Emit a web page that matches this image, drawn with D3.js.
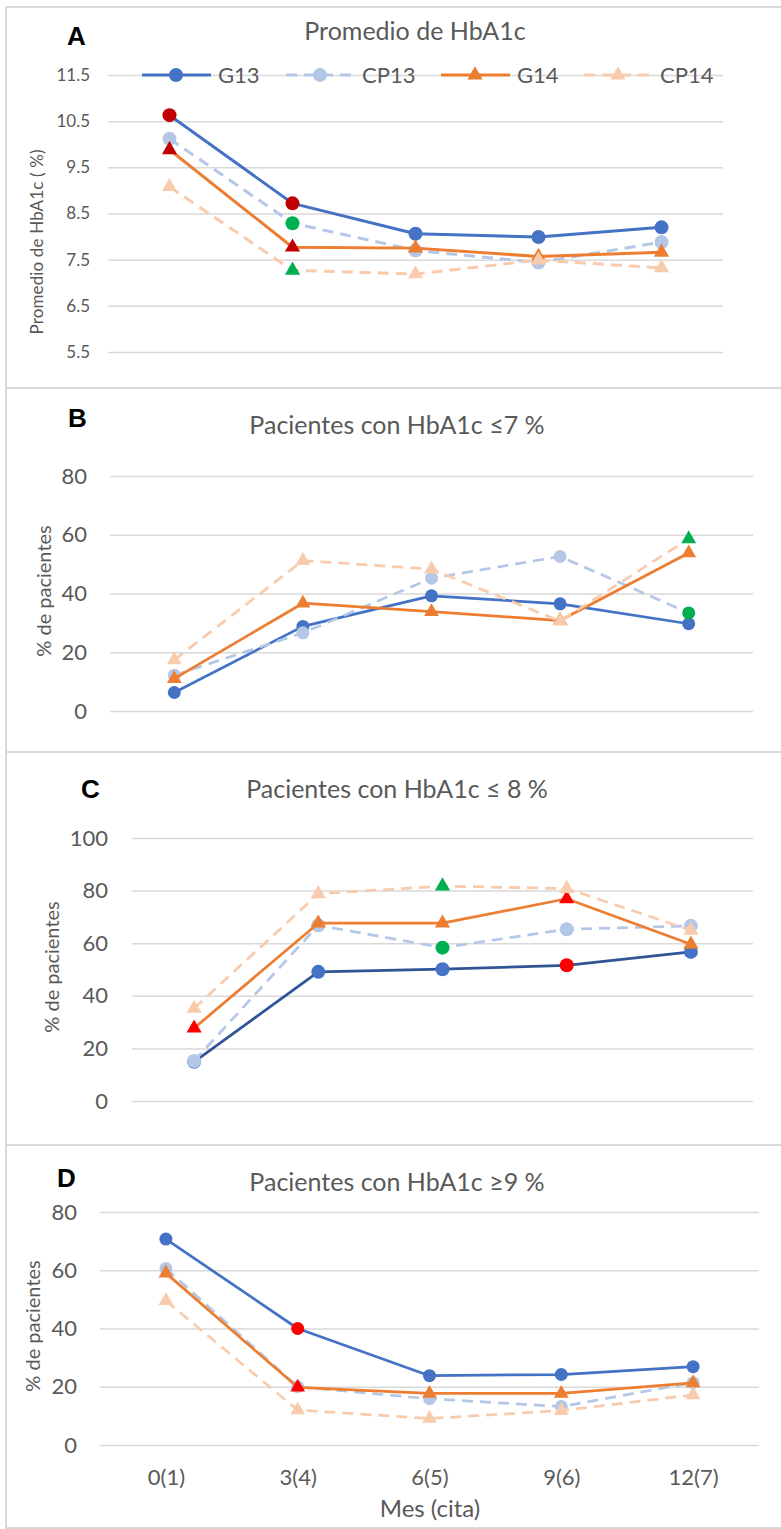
<!DOCTYPE html>
<html lang="es">
<head>
<meta charset="UTF-8">
<title>HbA1c por mes</title>
<script src="https://cdnjs.cloudflare.com/ajax/libs/d3/7.8.5/d3.min.js"></script>
<style>
  body { margin: 0; background: #fff; }
  text { font-family: Lato, "Open Sans", sans-serif; fill: #595959; }
  .letra { font-family: "Liberation Sans", Arial, sans-serif; font-weight: bold; fill: #000; }
</style>
</head>
<body>
<svg id="fig" width="781" height="1529"></svg>
<script>
// categorias y series
const meses = ["0(1)", "3(4)", "6(5)", "9(6)", "12(7)"];
const series = ["G13", "CP13", "G14", "CP14"];

// A: promedio de HbA1c (%)
const A_G13  = [10.63, 8.72, 8.06, 7.99, 8.20];
const A_CP13 = [10.12, 8.29, 7.70, 7.44, 7.88];
const A_G14  = [9.88, 7.77, 7.75, 7.57, 7.66];
const A_CP14 = [9.08, 7.27, 7.19, 7.49, 7.32];
const ticksA = [5.5, 6.5, 7.5, 8.5, 9.5, 10.5, 11.5];

// B: pacientes con HbA1c <=7 %
const B_G13  = [6.3, 28.8, 39.2, 36.5, 29.7];
const B_CP13 = [12.2, 26.6, 45.2, 52.6, 33.4];
const B_G14  = [11.0, 36.7, 33.8, 30.8, 53.8];
const B_CP14 = [17.4, 51.2, 48.3, 30.6, 58.6];
const ticksB = [0, 20, 40, 60, 80];

// C: pacientes con HbA1c <=8 %
const C_G13  = [14.9, 49.1, 50.1, 51.6, 56.7];
const C_CP13 = [15.2, 66.8, 58.3, 65.3, 66.6];
const C_G14  = [27.7, 67.6, 67.6, 76.9, 59.6];
const C_CP14 = [35.2, 78.8, 81.7, 80.8, 64.9];
const ticksC = [0, 20, 40, 60, 80, 100];

// D: pacientes con HbA1c >=9 %
const D_G13  = [70.7, 40.0, 23.8, 24.2, 26.9];
const D_CP13 = [60.6, 20.0, 15.9, 13.2, 21.4];
const D_G14  = [59.0, 19.8, 17.7, 17.7, 21.3];
const D_CP14 = [49.5, 12.0, 9.1, 11.8, 17.2];
const ticksD = [0, 20, 40, 60, 80];

// puntos resaltados (o = oscuro, r = rojo, v = verde)
const A_marcas = {G13: ["o","o","","",""], CP13: ["","v","","",""], G14: ["o","o","","",""], CP14: ["","v","","",""]};
const B_marcas = {G13: ["","","","",""], CP13: ["","","","","v"], G14: ["","","","",""], CP14: ["","","","","v"]};
const C_marcas = {G13: ["","","","r",""], CP13: ["","","v","",""], G14: ["r","","","r",""], CP14: ["","","v","",""]};
const D_marcas = {G13: ["","r","","",""], CP13: ["","","","",""], G14: ["","r","","",""], CP14: ["","","","",""]};

const colMarca = {o: "#C00000", r: "#FF0000", v: "#00B050"};
const estilo = {
  G13:  {color: "#4472C4", dash: null,   sym: "c"},
  CP13: {color: "#B4C7E7", dash: "11,7", sym: "c"},
  G14:  {color: "#ED7D31", dash: null,   sym: "t"},
  CP14: {color: "#F8CBAD", dash: "11,7", sym: "t"}
};

const paneles = [
  {letra: "A", lx: 67, ly: 45, titulo: "Promedio de HbA1c", tx: 415, ty: 40,
   yt: "Promedio de HbA1c ( %)", ytx: 37, yty: 242, ytLen: 185, ytSize: 17,
   datos: {G13: A_G13, CP13: A_CP13, G14: A_G14, CP14: A_CP14}, marcas: A_marcas,
   dom: [5.5, 11.5], ticks: ticksA, fmt: d3.format(".1f"), tickSize: 17, pad: 18,
   x0: 108, x1: 723, yTop: 75, yBot: 352, r: 7, tri: 100, lw: 3},
  {letra: "B", lx: 68, ly: 427, titulo: "Pacientes con HbA1c \u22647 %", tx: 397, ty: 434,
   yt: "% de pacientes", ytx: 44, yty: 591, ytSize: 20,
   datos: {G13: B_G13, CP13: B_CP13, G14: B_G14, CP14: B_CP14}, marcas: B_marcas,
   dom: [0, 80], ticks: ticksB, fmt: d3.format("d"), tickSize: 22, pad: 23,
   x0: 110, x1: 753, yTop: 476, yBot: 711, r: 6.5, tri: 95, lw: 2.75},
  {letra: "C", lx: 81, ly: 798, titulo: "Pacientes con HbA1c \u2264 8 %", tx: 397, ty: 798,
   yt: "% de pacientes", ytx: 52, yty: 967, ytSize: 20, g13col: "#2F5597",
   datos: {G13: C_G13, CP13: C_CP13, G14: C_G14, CP14: C_CP14}, marcas: C_marcas,
   dom: [0, 100], ticks: ticksC, fmt: d3.format("d"), tickSize: 22, pad: 24,
   x0: 132, x1: 753, yTop: 838, yBot: 1101, r: 7, tri: 100, lw: 2.75},
  {letra: "D", lx: 57, ly: 1187, titulo: "Pacientes con HbA1c \u22659 %", tx: 397, ty: 1191,
   yt: "% de pacientes", ytx: 33, yty: 1326, ytSize: 20,
   datos: {G13: D_G13, CP13: D_CP13, G14: D_G14, CP14: D_CP14}, marcas: D_marcas,
   dom: [0, 80], ticks: ticksD, fmt: d3.format("d"), tickSize: 22, pad: 23,
   x0: 100, x1: 759, yTop: 1212, yBot: 1445, r: 6.5, tri: 95, lw: 2.75, ejeX: true}
];

const svg = d3.select("#fig");

// marco
const gris = "#D9D9D9";
svg.append("line").attr("x1", 6).attr("x2", 781).attr("y1", 7).attr("y2", 7).attr("stroke", gris).attr("stroke-width", 2);
svg.append("line").attr("x1", 6).attr("x2", 6).attr("y1", 7).attr("y2", 1529).attr("stroke", gris).attr("stroke-width", 2);
[388, 752, 1145, 1528].forEach(function (yy) {
  svg.append("line").attr("x1", 6).attr("x2", 781).attr("y1", yy).attr("y2", yy)
    .attr("stroke", gris).attr("stroke-width", 2);
});

function simbolo(g, tipo, cx, cy, color, p) {
  if (tipo === "c") {
    g.append("circle").attr("cx", cx).attr("cy", cy).attr("r", p.r).attr("fill", color);
  } else {
    g.append("path").attr("d", d3.symbol(d3.symbolTriangle, p.tri)())
      .attr("transform", "translate(" + cx + "," + cy + ")").attr("fill", color);
  }
}

paneles.forEach(function (p) {
  const g = svg.append("g");
  const x = d3.scalePoint().domain(meses).range([p.x0, p.x1]).padding(0.5);
  const y = d3.scaleLinear().domain(p.dom).range([p.yBot, p.yTop]);

  // rejilla + etiquetas
  const ax = g.append("g").attr("transform", "translate(" + p.x0 + ",0)")
    .call(d3.axisLeft(y).tickValues(p.ticks).tickFormat(p.fmt)
      .tickSize(-(p.x1 - p.x0)).tickPadding(p.pad));
  ax.select(".domain").remove();
  ax.selectAll(".tick line").attr("stroke", gris).attr("stroke-width", 1.5);
  ax.selectAll(".tick text").attr("font-size", p.tickSize).attr("fill", "#595959")
    .style("font-family", "Lato, sans-serif");

  // titulos
  g.append("text").attr("class", "letra").attr("x", p.lx).attr("y", p.ly)
    .attr("font-size", 26).text(p.letra);
  g.append("text").attr("x", p.tx).attr("y", p.ty).attr("text-anchor", "middle")
    .attr("font-size", 25).text(p.titulo);
  const yt = g.append("text").attr("text-anchor", "middle").attr("dy", "0.35em")
    .attr("transform", "translate(" + p.ytx + "," + p.yty + ") rotate(-90)")
    .attr("font-size", p.ytSize).text(p.yt);
  if (p.ytLen) yt.attr("textLength", p.ytLen).attr("lengthAdjust", "spacing");

  // series
  series.forEach(function (s) {
    const e = estilo[s];
    const vals = p.datos[s];
    const linea = d3.line().x(function (d, i) { return x(meses[i]); }).y(function (d) { return y(d); });
    g.append("path").datum(vals).attr("d", linea).attr("fill", "none")
      .attr("stroke", (s === "G13" && p.g13col) ? p.g13col : e.color)
      .attr("stroke-width", p.lw).attr("stroke-dasharray", e.dash)
      .attr("stroke-linejoin", "round");
    vals.forEach(function (v, i) {
      const m = p.marcas[s][i];
      simbolo(g, e.sym, x(meses[i]), y(v), m ? colMarca[m] : e.color, p);
    });
  });

  if (p.ejeX) {
    const axX = g.append("g").attr("transform", "translate(0," + p.yBot + ")")
      .call(d3.axisBottom(x).tickSize(0).tickPadding(24));
    axX.select(".domain").remove();
    axX.selectAll(".tick text").attr("font-size", 22).attr("fill", "#595959")
      .style("font-family", "Lato, sans-serif");
    g.append("text").attr("x", 430).attr("y", 1517).attr("text-anchor", "middle")
      .attr("font-size", 24).text("Mes (cita)");
  }
});

// leyenda (panel A)
const leyX = [176, 320, 475, 618];
const pA = paneles[0];
const leg = svg.append("g").attr("transform", "translate(0,75)");
series.forEach(function (s, i) {
  const e = estilo[s];
  leg.append("line").attr("x1", leyX[i] - 34).attr("x2", leyX[i] + 35).attr("y1", 0).attr("y2", 0)
    .attr("stroke", e.color).attr("stroke-width", 3).attr("stroke-dasharray", e.dash);
  simbolo(leg, e.sym, leyX[i], 0, e.color, pA);
  leg.append("text").attr("x", leyX[i] + 42).attr("y", 0).attr("dy", "0.35em")
    .attr("font-size", 22).text(s);
});
</script>
</body>
</html>
